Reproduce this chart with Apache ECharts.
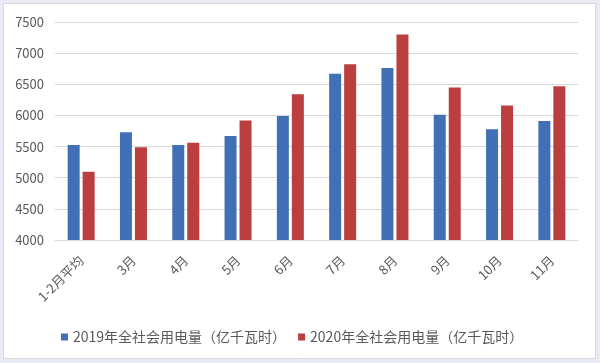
<!DOCTYPE html>
<html><head><meta charset="utf-8">
<script src="https://cdn.jsdelivr.net/npm/echarts@6/dist/echarts.min.js"></script>
<style>html,body{margin:0;padding:0;background:#e9eaf5;}#c{width:600px;height:363px;}</style>
</head><body><div id="c"></div>
<script>
const categories = ['1-2月平均','3月','4月','5月','6月','7月','8月','9月','10月','11月'];
const series2019 = [5525, 5730, 5525, 5670, 5990, 6670, 6760, 6010, 5780, 5910];
const series2020 = [5095, 5490, 5560, 5920, 6340, 6820, 7300, 6450, 6160, 6470];
const name2019 = '2019年全社会用电量（亿千瓦时）';
const name2020 = '2020年全社会用电量（亿千瓦时）';
const yTicks = { min: 4000, max: 7500, interval: 500 };

const chart = echarts.init(document.getElementById('c'), null, {renderer:'canvas'});
const font = '"Noto Sans CJK SC", "Microsoft YaHei", sans-serif';
chart.setOption({
  backgroundColor: 'transparent',
  animation: false,
  textStyle: { fontFamily: font },
  graphic: [{ type:'rect', z:-10, shape:{x:3.5,y:3.5,width:592,height:355}, style:{fill:'#ffffff', stroke:'#d9d9d9', lineWidth:1} }],
  grid: { left: 55, right: 22, top: 22, bottom: 123 },
  legend: {
    left: 56, top: 325, itemWidth: 7, itemHeight: 7, itemGap: 12, icon: 'rect',
    textStyle: { fontSize: 14, color: '#595959', fontFamily: font },
    data: [name2019, name2020]
  },
  xAxis: {
    type: 'category', data: categories,
    axisLine: { lineStyle: { color: '#d9d9d9', width: 1 } },
    axisTick: { show: false },
    axisLabel: { rotate: 45, fontSize: 13, color: '#595959', margin: 18, interval: 0, fontFamily: font }
  },
  yAxis: {
    type: 'value', min: yTicks.min, max: yTicks.max, interval: yTicks.interval,
    axisLine: { show: false }, axisTick: { show: false },
    splitLine: { lineStyle: { color: '#d9d9d9', width: 1 } },
    axisLabel: { fontSize: 13, color: '#595959', margin: 11, fontFamily: font, formatter: v => String(v) }
  },
  series: [
    { name: name2019, type: 'bar', data: series2019, barWidth: 12, barGap: '25%', itemStyle: { color: '#4170b6' } },
    { name: name2020, type: 'bar', data: series2020, barWidth: 12, itemStyle: { color: '#ba3f3e' } }
  ]
});
</script></body></html>
